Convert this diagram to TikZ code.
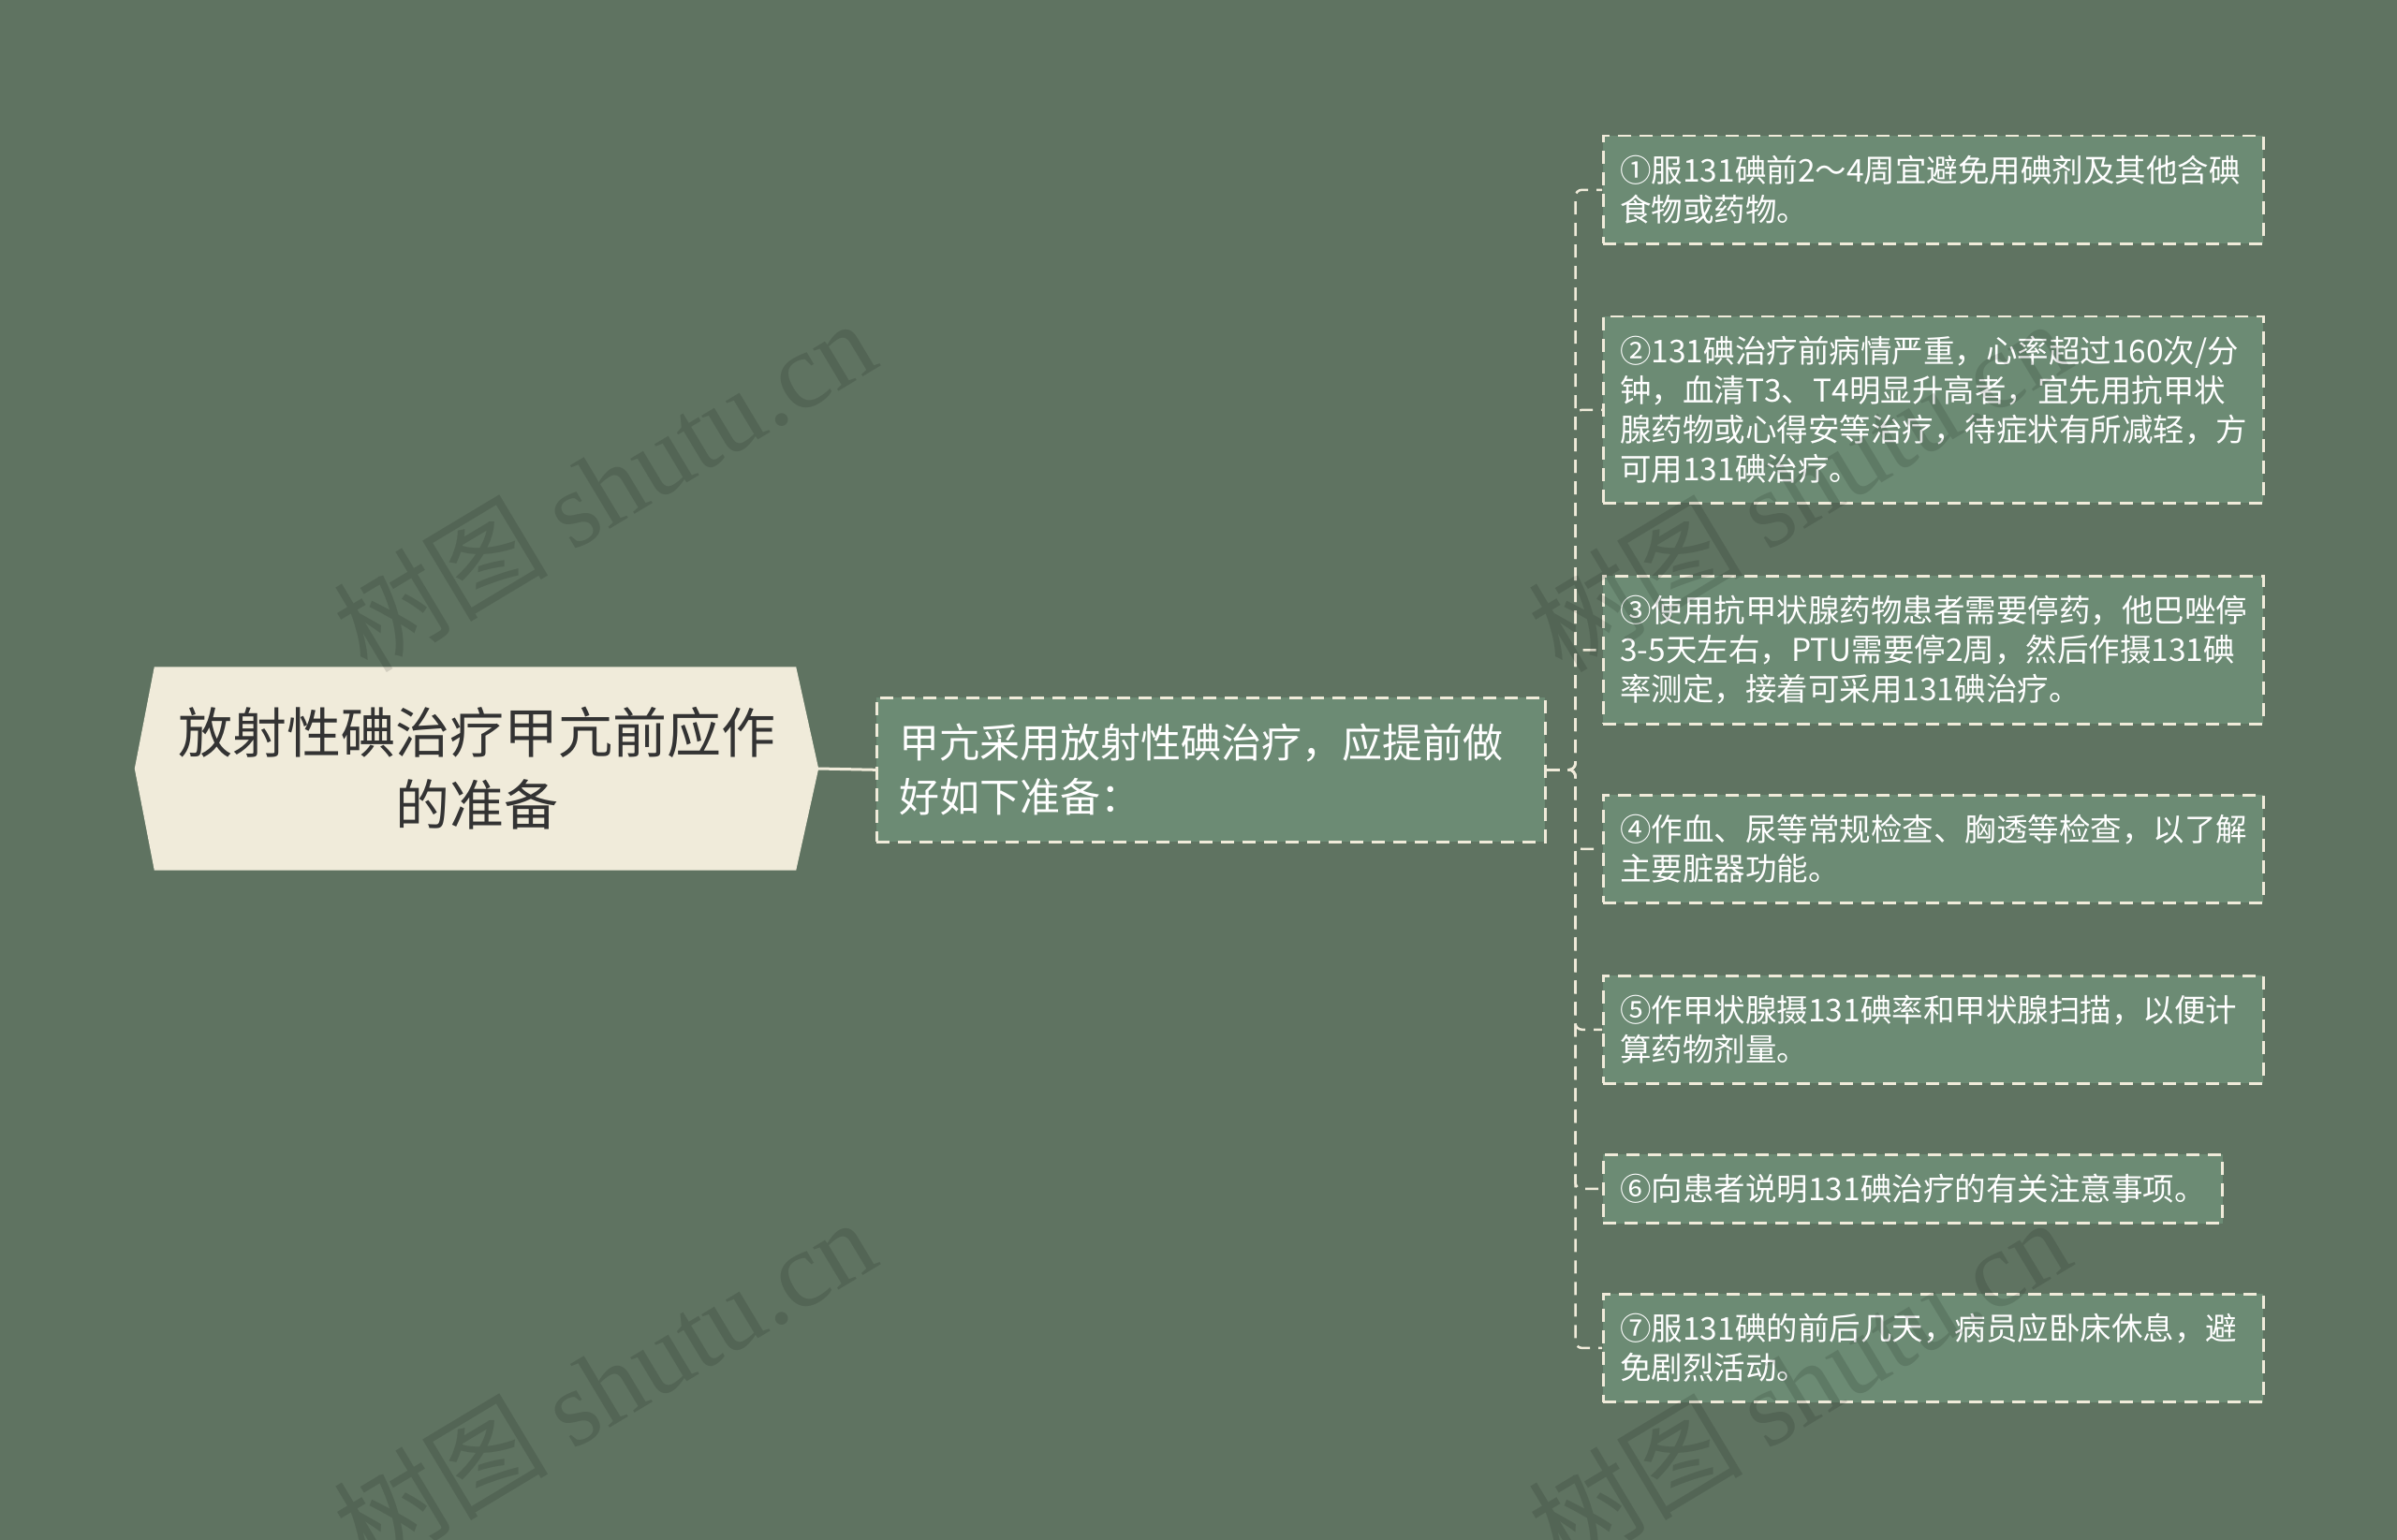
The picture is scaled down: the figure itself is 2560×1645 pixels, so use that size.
\documentclass[tikz,border=0pt]{standalone}
\usepackage{fontspec}
\setmainfont{Noto Sans CJK SC}
\newfontfamily\wmfont{Liberation Serif}
\usetikzlibrary{backgrounds}
\exhyphenpenalty=10000
\definecolor{bgc}{HTML}{5F7361}
\definecolor{boxc}{HTML}{6C8B74}
\definecolor{cream}{HTML}{F0EBDA}
\definecolor{roottxt}{HTML}{333333}
\begin{document}
\begin{tikzpicture}[x=1pt,y=-1pt,
  rootnode/.style={inner sep=0pt, minimum width=730pt, minimum height=217pt, align=center, text=roottxt, font=\fontsize{58}{77}\selectfont},
  boxbase/.style={draw=cream, line width=2.5pt, dash pattern=on 14pt off 9pt, fill=boxc, text=white, align=left, anchor=north west},
  midnode/.style={boxbase, text width=666pt, inner xsep=24pt, inner ysep=28pt, font=\fontsize{43}{58}\selectfont},
  leafnode/.style={boxbase, inner xsep=18pt, inner ysep=21pt, font=\fontsize{33.5}{42}\selectfont},
  wideleaf/.style={leafnode, text width=669pt},
  conn/.style={draw=cream, line width=2.5pt, dash pattern=on 14pt off 9pt, rounded corners=7pt},
  rootconn/.style={draw=cream, line width=3pt},
  wm/.style={rotate=31, text=black, opacity=0.12, font=\fontsize{115}{115}\selectfont}
]
\useasboundingbox (0,0) rectangle (2560,1645);
\begin{pgfonlayer}{background}
  \fill[bgc] (0,0) rectangle (2560,1645);
\end{pgfonlayer}

\node[rootnode] (root) at (509,821) {放射性碘治疗甲亢前应作\\的准备};
\begin{pgfonlayer}{background}
  \fill[cream] (root.west) -- ([xshift=21pt]root.north west) -- ([xshift=-24pt]root.north east) -- (root.east) -- ([xshift=-24pt]root.south east) -- ([xshift=21pt]root.south west) -- cycle;
\end{pgfonlayer}

\node[midnode] (mid) at (935,744) {甲亢采用放射性碘治疗，应提前做\\好如下准备：};

\node[wideleaf] (c1) at (1711,144) {①服131碘前2～4周宜避免用碘剂及其他含碘\\食物或药物。};
\node[wideleaf] (c2) at (1711,337) {②131碘治疗前病情严重，心率超过160次/分\\钟，血清T3、T4明显升高者，宜先用抗甲状\\腺药物或心得安等治疗，待症状有所减轻，方\\可用131碘治疗。};
\node[wideleaf] (c3) at (1711,614) {③使用抗甲状腺药物患者需要停药，他巴唑停\\3-5天左右，PTU需要停2周，然后作摄131碘\\率测定，接着可采用131碘治疗。};
\node[wideleaf] (c4) at (1711,848) {④作血、尿等常规检查、胸透等检查，以了解\\主要脏器功能。};
\node[wideleaf] (c5) at (1711,1041) {⑤作甲状腺摄131碘率和甲状腺扫描，以便计\\算药物剂量。};
\node[leafnode] (c6) at (1711,1232) {⑥向患者说明131碘治疗的有关注意事项。};
\node[wideleaf] (c7) at (1711,1381) {⑦服131碘的前后几天，病员应卧床休息，避\\免剧烈活动。};

\draw[rootconn] (root.east) -- (mid.west);
\foreach \c in {c1,c2,c3,c4,c5,c6,c7}{
  \draw[conn] (mid.east) -- ++(31,0) |- (\c.west);
}

\node[wm] (w1) at (645,518) {树图 {\wmfont shutu.cn}};
\node[wm] (w2) at (1921,518) {树图 {\wmfont shutu.cn}};
\node[wm] (w3) at (645,1478) {树图 {\wmfont shutu.cn}};
\node[wm] (w4) at (1921,1478) {树图 {\wmfont shutu.cn}};
\end{tikzpicture}
\end{document}
